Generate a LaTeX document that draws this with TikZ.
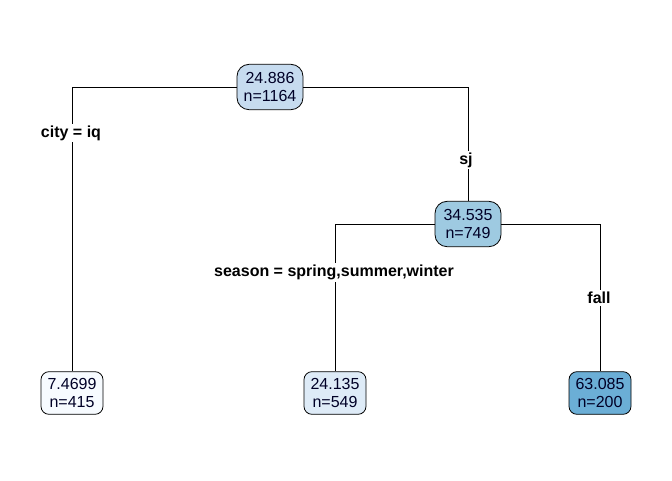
\documentclass[tikz,border=0pt]{standalone}
\usepackage{fontspec}
\setmainfont{Liberation Sans}
\begin{document}
\begin{tikzpicture}[x=0.75pt,y=-0.75pt,
  treenode/.style={draw=black,line width=0.6pt,align=center,inner sep=0pt,
    font=\fontsize{12}{13.5}\selectfont,text=black!85!blue},
  inner/.style={treenode,rounded corners=9pt,minimum width=49.5pt,minimum height=34pt},
  leaf/.style={treenode,rounded corners=6pt,minimum width=46.5pt,minimum height=32pt},
  split/.style={fill=white,inner sep=1.5pt,font=\bfseries\fontsize{12}{13.5}\selectfont},
  edge/.style={draw=black,line width=0.6pt}]
\useasboundingbox (0,0) rectangle (672,480);
\definecolor{c0}{HTML}{C6DBEF}
\definecolor{c1}{HTML}{9ECAE1}
\definecolor{c2}{HTML}{F7FBFF}
\definecolor{c3}{HTML}{DEEBF7}
\definecolor{c4}{HTML}{6BAED6}
% tree nodes
\node[inner,fill=c0] (root) at (270,87) {24.886\\n=1164};
\node[inner,fill=c1] (n2) at (468,224) {34.535\\n=749};
\node[leaf,fill=c2] (l1) at (72,393) {7.4699\\n=415};
\node[leaf,fill=c3] (l2) at (335,393) {24.135\\n=549};
\node[leaf,fill=c4] (l3) at (600,393) {63.085\\n=200};
% connectors
\draw[edge] (root.west) -| (l1.north);
\draw[edge] (root.east) -| (n2.north);
\draw[edge] (n2.west) -| (l2.north);
\draw[edge] (n2.east) -| (l3.north);
% split labels
\node[split] (s1) at (71,133) {city = iq};
\node[split] (s2) at (466,160) {sj};
\node[split] (s3) at (334,272) {season = spring,summer,winter};
\node[split] (s4) at (599,298) {fall};
\end{tikzpicture}
\end{document}
